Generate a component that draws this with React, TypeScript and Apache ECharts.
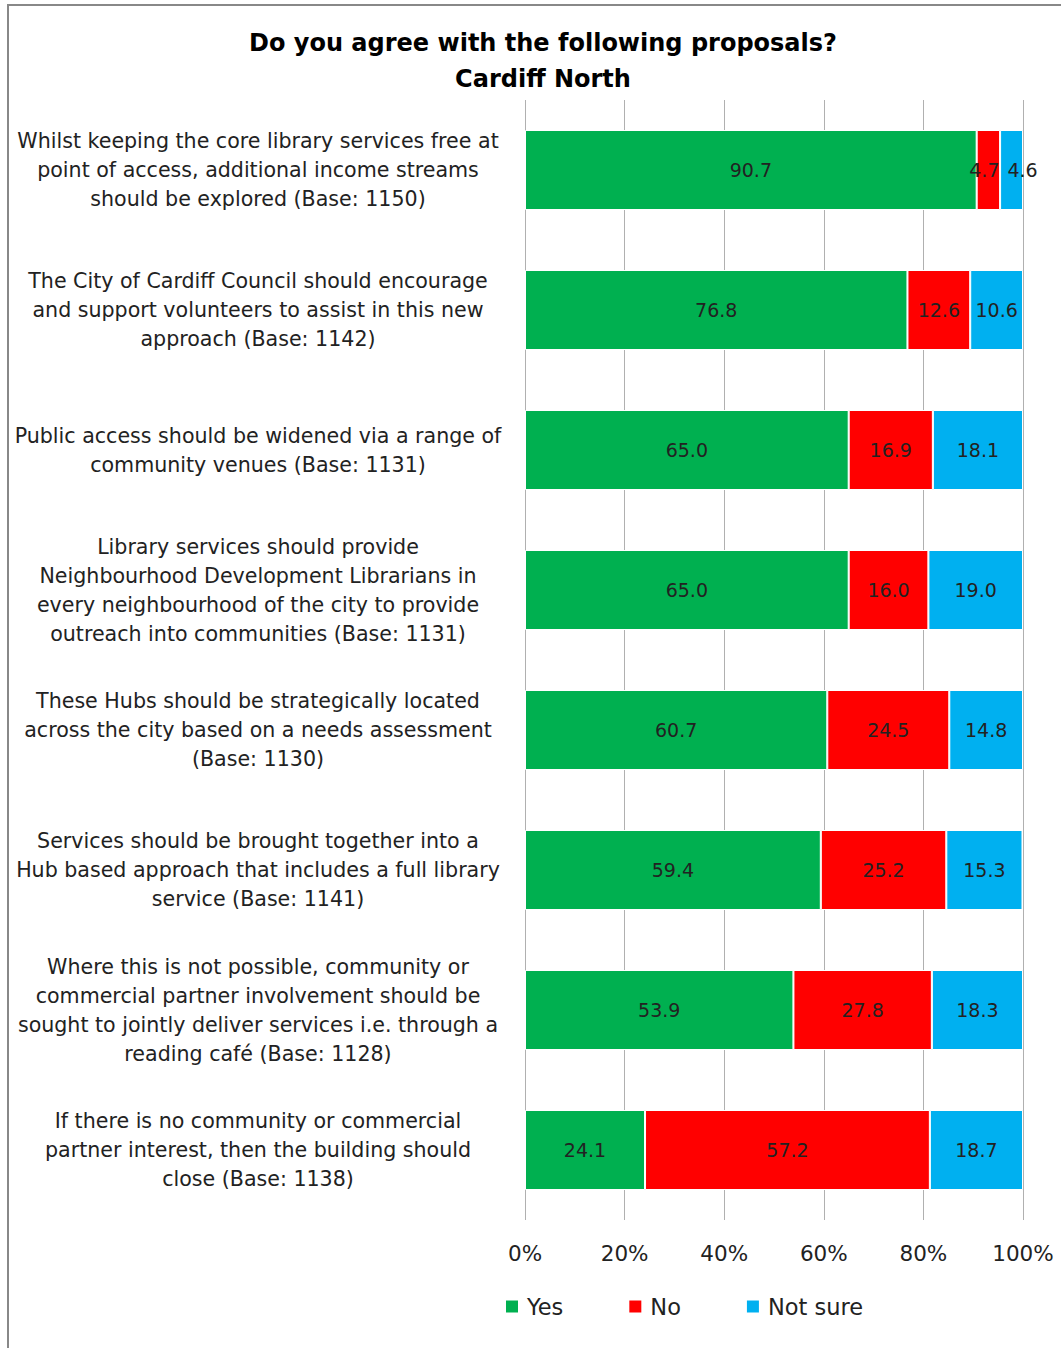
import React, { useEffect, useRef } from "react";
import * as echarts from "echarts";

const titleLines = ["Do you agree with the following proposals?", "Cardiff North"];

const categories = [
  "Whilst keeping the core library services free at\npoint of access, additional income streams\nshould be explored (Base: 1150)",
  "The City of Cardiff Council should encourage\nand support volunteers to assist in this new\napproach (Base: 1142)",
  "Public access should be widened via a range of\ncommunity venues (Base: 1131)",
  "Library services should provide\nNeighbourhood Development Librarians in\nevery neighbourhood of the city to provide\noutreach into communities (Base: 1131)",
  "These Hubs should be strategically located\nacross the city based on a needs assessment\n(Base: 1130)",
  "Services should be brought together into a\nHub based approach that includes a full library\nservice (Base: 1141)",
  "Where this is not possible, community or\ncommercial partner involvement should be\nsought to jointly deliver services i.e. through a\nreading café (Base: 1128)",
  "If there is no community or commercial\npartner interest, then the building should\nclose (Base: 1138)",
];

const yesValues = [90.7, 76.8, 65.0, 65.0, 60.7, 59.4, 53.9, 24.1];
const noValues = [4.7, 12.6, 16.9, 16.0, 24.5, 25.2, 27.8, 57.2];
const notSureValues = [4.6, 10.6, 18.1, 19.0, 14.8, 15.3, 18.3, 18.7];

const seriesNames = ["Yes", "No", "Not sure"];
const seriesColors = ["#00B050", "#FF0000", "#00B0F0"];

const FONT = "'DejaVu Sans', sans-serif";

// small-segment label nudges (series index -> [dx, dy]) for the first row only
const firstRowLabelOffsets: Record<number, number[]> = { 1: [-4, 0], 2: [11, 0] };

export default function App() {
  const ref = useRef<HTMLDivElement>(null);

  useEffect(() => {
    if (!ref.current) return;
    const chart = echarts.init(ref.current, undefined, { renderer: "svg" });
    const data = [yesValues, noValues, notSureValues];
    const option = {
      animation: false,
      backgroundColor: "#ffffff",
      textStyle: { fontFamily: FONT },
      title: {
        text: titleLines.join("\n"),
        left: 538,
        top: 20,
        textAlign: "center",
        textStyle: {
          fontFamily: FONT,
          fontSize: 24,
          fontWeight: "bold",
          color: "#000000",
          lineHeight: 36,
        },
      },
      graphic: [
        {
          type: "line",
          shape: { x1: 8, y1: 5, x2: 1061, y2: 5 },
          style: { stroke: "#888888", lineWidth: 2 },
        },
        {
          type: "line",
          shape: { x1: 8, y1: 4, x2: 8, y2: 1348 },
          style: { stroke: "#888888", lineWidth: 2 },
        },
      ],
      legend: {
        left: 499,
        top: 1290,
        itemWidth: 14,
        itemHeight: 14,
        itemGap: 64,
        icon: "rect",
        textStyle: { fontFamily: FONT, fontSize: 22.5, color: "#222222", padding: [0, 0, 0, 3] },
        data: seriesNames,
      },
      grid: {
        left: 525,
        right: 1061 - 1023,
        top: 100,
        height: 1120,
        containLabel: false,
      },
      xAxis: {
        type: "value",
        min: 0,
        max: 100,
        interval: 20,
        axisLine: { show: false },
        axisTick: { show: false },
        splitLine: { show: true, lineStyle: { color: "#b0b0b0", width: 1 } },
        axisLabel: {
          formatter: (v: number) => v + "%",
          fontFamily: FONT,
          fontSize: 21.5,
          color: "#222222",
          margin: 22,
        },
      },
      yAxis: {
        type: "category",
        inverse: true,
        data: categories,
        axisLine: { show: false },
        axisTick: { show: false },
        splitLine: { show: false },
        axisLabel: {
          align: "center",
          margin: 267,
          fontFamily: FONT,
          fontSize: 20.6,
          lineHeight: 29,
          color: "#222222",
        },
      },
      series: seriesNames.map((name, i) => ({
        name,
        type: "bar",
        stack: "total",
        barWidth: 80,
        data: data[i].map((v, j) =>
          j === 0 && firstRowLabelOffsets[i]
            ? { value: v, label: { offset: firstRowLabelOffsets[i] } }
            : v
        ),
        itemStyle: { color: seriesColors[i], borderColor: "#ffffff", borderWidth: 1 },
        label: {
          show: true,
          position: "inside",
          formatter: (p: any) => Number(p.value).toFixed(1),
          fontFamily: FONT,
          fontSize: 19,
          color: "#222222",
        },
      })),
    };
    chart.setOption(option as any);
    return () => chart.dispose();
  }, []);

  return (
    <div
      ref={ref}
      style={{ position: "absolute", left: 0, top: 0, width: 1061, height: 1348 }}
    />
  );
}
